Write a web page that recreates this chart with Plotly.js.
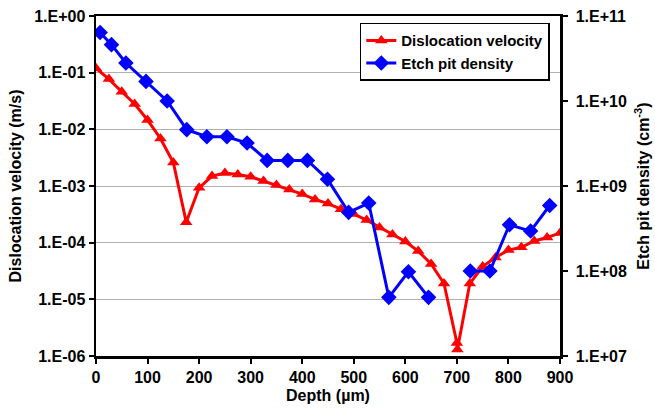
<!DOCTYPE html>
<html>
<head>
<meta charset="utf-8">
<script src="https://cdn.plot.ly/plotly-3.0.1.min.js"></script>
<style>html,body{margin:0;padding:0;background:#fff}#chart{width:655px;height:408px}</style>
</head>
<body>
<div id="chart"></div>
<script>
// Dislocation velocity (m/s) vs depth (µm)
const velDepth = [0,25,50,75,100,125,150,175,200,225,250,275,300,325,350,375,400,425,450,475,500,525,550,575,600,625,650,675,700,701,725,750,775,800,825,850,875,900];
const velValues = [0.12,0.077,0.046,0.028,0.0146,0.0069,0.0026,2.3e-4,9.3e-4,1.5e-3,1.7e-3,1.6e-3,1.46e-3,1.23e-3,1.04e-3,8.7e-4,7.2e-4,5.8e-4,4.9e-4,3.9e-4,3.2e-4,2.5e-4,1.86e-4,1.4e-4,1.05e-4,7.1e-5,4.2e-5,1.9e-5,1.7e-6,1.3e-6,1.9e-5,3.8e-5,5.5e-5,7.4e-5,8.3e-5,1.07e-4,1.23e-4,1.48e-4];
// Etch pit density (cm^-3) vs depth (µm); null = gap in line
const epdDepth = [8,30,58,97,138,176,215,254,293,332,372,410,449,490,529,568,606,645,685,726,764,802,843,880];
const epdValues = [6.4e10,4.6e10,2.8e10,1.7e10,1.0e10,4.6e9,3.8e9,3.8e9,3.2e9,2.0e9,2.0e9,2.0e9,1.2e9,4.9e8,6.3e8,4.9e7,9.8e7,4.9e7,null,1.0e8,1.0e8,3.5e8,2.95e8,5.9e8];
const leftTickVals = [1e-6,1e-5,1e-4,1e-3,1e-2,1e-1,1];
const leftTickText = ['1.E-06','1.E-05','1.E-04','1.E-03','1.E-02','1.E-01','1.E+00'];
const rightTickVals = [1e7,1e8,1e9,1e10,1e11];
const rightTickText = ['1.E+07','1.E+08','1.E+09','1.E+10','1.E+11'];
const xTickVals = [0,100,200,300,400,500,600,700,800,900];

const F = 'Liberation Sans, Arial, sans-serif';
const font = {family: F, size: 16, color: '#000', weight: 'bold'};
const legFont = {family: F, size: 15, color: '#000', weight: 'bold'};

const traces = [
  {x: velDepth, y: velValues, name: 'Dislocation velocity', type: 'scatter', mode: 'lines+markers',
   line: {color: '#ff0000', width: 3}, marker: {symbol: 'triangle-up', size: 11, color: '#ff0000'}},
  {x: epdDepth, y: epdValues, name: 'Etch pit density', type: 'scatter', mode: 'lines+markers', yaxis: 'y2',
   connectgaps: false,
   line: {color: '#0000ff', width: 3}, marker: {symbol: 'diamond', size: 12, color: '#0000ff'}}
];

const layout = {
  width: 655, height: 408,
  margin: {l: 96, r: 95, t: 16, b: 52},
  paper_bgcolor: '#fff', plot_bgcolor: '#fff',
  font: font,
  showlegend: true,
  legend: {x: 0.978, y: 0.98, xanchor: 'right', yanchor: 'top', bgcolor: '#fff',
           bordercolor: '#000', borderwidth: 1.5, font: legFont, tracegroupgap: 0,
           itemwidth: 30},
  xaxis: {range: [0, 900], tickvals: xTickVals, ticks: 'outside', ticklen: 5, tickwidth: 2,
          tickcolor: '#000', showline: true, linecolor: '#000', linewidth: 2.5, mirror: true,
          showgrid: false, zeroline: false, tickfont: font,
          title: {text: 'Depth (µm)', font: font, standoff: 5}},
  yaxis: {type: 'log', range: [-6, 0], tickvals: leftTickVals, ticktext: leftTickText,
          ticks: 'outside', ticklen: 5, tickwidth: 2, tickcolor: '#000',
          showline: true, linecolor: '#000', linewidth: 2.5, mirror: true,
          showgrid: true, gridcolor: '#b0b0b0', gridwidth: 1, zeroline: false, tickfont: font,
          title: {text: 'Dislocation velocity (m/s)', font: font, standoff: 9}},
  yaxis2: {type: 'log', range: [7, 11], overlaying: 'y', side: 'right',
           tickvals: rightTickVals, ticktext: rightTickText,
           ticks: 'outside', ticklen: 5, tickwidth: 2, tickcolor: '#000',
           ticklabelstandoff: 5,
           showline: true, linecolor: '#000', linewidth: 2.5,
           showgrid: false, zeroline: false, tickfont: font,
           title: {text: 'Etch pit density (cm<sup>-3</sup>)', font: font, standoff: 12}}
};

Plotly.newPlot('chart', traces, layout, {displayModeBar: false, staticPlot: true});
</script>
</body>
</html>
